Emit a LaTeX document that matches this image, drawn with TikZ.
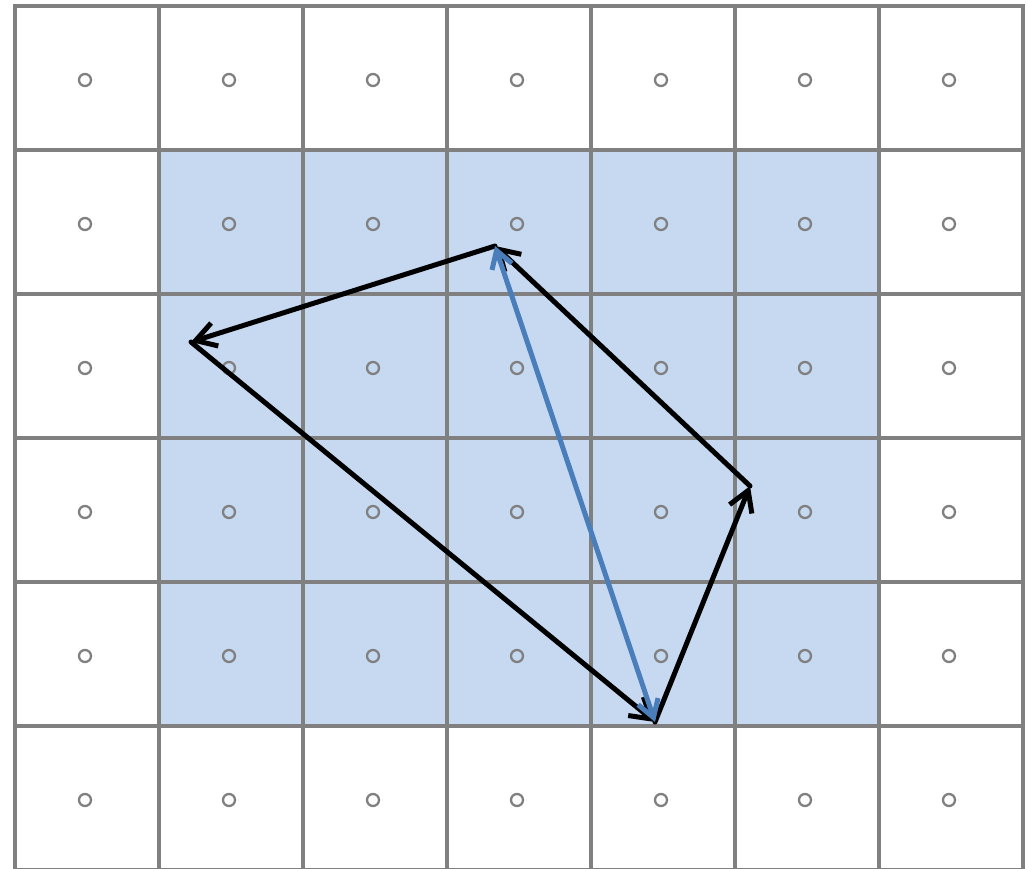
\documentclass[tikz,border=0pt]{standalone}
\usetikzlibrary{arrows.meta}
\definecolor{gridgray}{HTML}{808080}
\definecolor{cellblue}{HTML}{C6D9F1}
\definecolor{vecblue}{HTML}{4A7EBB}
\begin{document}
\begin{tikzpicture}[x=1pt,y=1pt,
  gridline/.style={draw=gridgray,line width=4.5pt},
  dot/.style={draw=gridgray,line width=2.3pt},
  vec/.style={draw=black,line width=5pt,line cap=round,-{Straight Barb[length=20pt,width=24pt]}},
  bivec/.style={draw=vecblue,line width=5pt,line cap=round,{Straight Barb[length=17pt,width=21pt]}-{Straight Barb[length=17pt,width=21pt]}}]
\useasboundingbox (0,-868) rectangle (1027,0);
\fill[cellblue] (159,-150) rectangle (879,-726);
\foreach \i in {0,...,7} \draw[gridline] (15+144*\i,-6) -- (15+144*\i,-872);
\foreach \j in {0,...,6} \draw[gridline] (12.75,-6-144*\j) -- (1025.25,-6-144*\j);
\foreach \i in {0,...,6} \foreach \j in {0,...,5} \draw[dot] (85+144*\i,-80-144*\j) circle (6);
\coordinate (A) at (495,-246);
\coordinate (B) at (191,-342);
\coordinate (C) at (655,-722);
\coordinate (D) at (750,-486);
\draw[vec] (A) -- (B);
\draw[vec] (B) -- (C);
\draw[vec] (C) -- (D);
\draw[vec] (D) -- (A);
\draw[bivec] (C) -- (A);
\end{tikzpicture}
\end{document}
